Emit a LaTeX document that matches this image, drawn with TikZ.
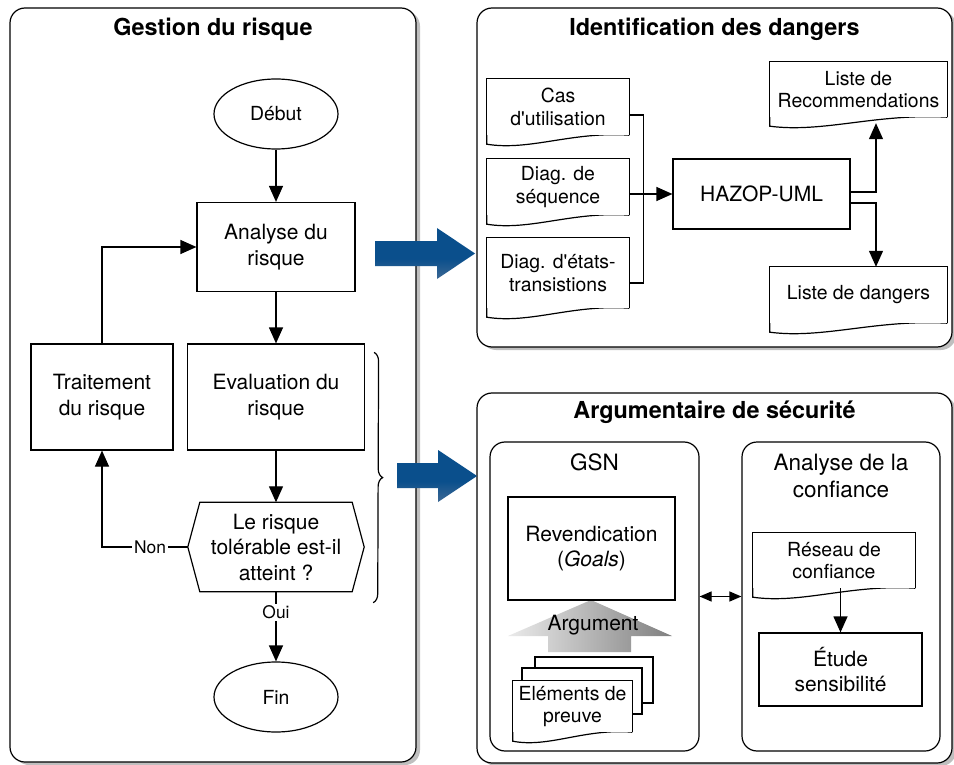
\documentclass[tikz,border=0pt]{standalone}
\usepackage{fontspec}
\setmainfont{TeX Gyre Heros}
\usetikzlibrary{arrows.meta,positioning,shapes.geometric,shadows,calc,decorations.pathreplacing}

\newcommand{\grandtaille}{\fontsize{23.4}{28}\selectfont\bfseries}
\newcommand{\moyentaille}{\fontsize{22.5}{27}\selectfont}
\newcommand{\normaltaille}{\fontsize{21}{25.5}\selectfont}
\newcommand{\petittaille}{\fontsize{19.4}{22.7}\selectfont}
\newcommand{\minitaille}{\fontsize{17.4}{20}\selectfont}

\definecolor{bleuhaut}{HTML}{2F4A66}
\definecolor{bleumilieu}{HTML}{0A4F8C}
\definecolor{bleuclair}{HTML}{3D6894}
\definecolor{bleubas}{HTML}{7A8898}
\pgfdeclareverticalshading{bleuombre}{100bp}{color(0bp)=(bleubas); color(25bp)=(bleuclair);
  color(45bp)=(bleumilieu); color(75bp)=(bleumilieu); color(100bp)=(bleuhaut)}

\tikzset{
  trait/.style={line width=1.2pt},
  fleche/.style={trait, -{Triangle[length=16pt,width=14pt]}},
  cadre/.style={draw, trait, rounded corners=15pt, fill=white, inner sep=0pt,
    drop shadow={shadow xshift=4pt, shadow yshift=-3pt, opacity=0.5}},
  souscadre/.style={draw, trait, rounded corners=15pt, inner sep=0pt},
  titre/.style={font=\grandtaille},
  soustitre/.style={font=\moyentaille, align=center},
  boite/.style={draw, trait, rectangle, align=center, inner sep=0pt, font=\normaltaille},
  ovale/.style={draw, trait, ellipse, minimum width=124pt, minimum height=70pt,
    inner sep=0pt, font=\petittaille},
  etiquette/.style={fill=white, inner sep=2pt, font=\minitaille},
  choix/.style={rectangle, inner sep=0pt, align=center, font=\normaltaille,
    minimum width=176pt, minimum height=89pt,
    append after command={\pgfextra{
      \draw[trait] ([xshift=12pt]\tikzlastnode.north west) -- ([xshift=-12pt]\tikzlastnode.north east)
        -- (\tikzlastnode.east) -- ([xshift=-12pt]\tikzlastnode.south east)
        -- ([xshift=12pt]\tikzlastnode.south west) -- (\tikzlastnode.west) -- cycle;}}},
  doc/.style={rectangle, fill=white, inner sep=0pt, align=center, font=\petittaille,
    append after command={\pgfextra{
      \draw[trait] (\tikzlastnode.south east) -- (\tikzlastnode.north east)
        -- (\tikzlastnode.north west) -- ([yshift=-9pt]\tikzlastnode.south west)
        .. controls ($(\tikzlastnode.south west)!0.3!(\tikzlastnode.south east)+(0,16)$)
        and ($(\tikzlastnode.south west)!0.6!(\tikzlastnode.south east)+(0,-4)$)
        .. (\tikzlastnode.south east);}}},
}

\begin{document}
\begin{tikzpicture}[x=1pt,y=-1pt,node distance=150pt,on grid]
  \useasboundingbox (0,0) rectangle (954,765);

  % les trois cadres
  \node[cadre, minimum width=406pt, minimum height=754pt] (gestion) at (213,385) {};
  \node[titre] (titregestion) at ([yshift=-22pt]gestion.north) {Gestion du risque};
  \node[cadre, minimum width=475pt, minimum height=339pt] (identification) at (714.5,177.5) {};
  \node[titre] (titreidentification) at ([yshift=-22pt]identification.north) {Identification des dangers};
  \node[cadre, minimum width=475pt, minimum height=370pt] (argumentaire) at (714.5,578) {};
  \node[titre] (titreargumentaire) at ([yshift=-20pt]argumentaire.north) {Argumentaire de sécurité};

  % gestion du risque
  \node[ovale] (debut) at (276,114) {Début};
  \node[boite, minimum width=158pt, minimum height=89pt] (analyse) [below=133pt of debut] {Analyse du\\risque};
  \node[boite, minimum width=177pt, minimum height=106pt] (evaluation) [below=of analyse] {Evaluation du\\risque};
  \node[boite, minimum width=142pt, minimum height=106pt] (traitement) [left=174pt of evaluation] {Traitement\\du risque};
  \node[choix] (decision) [below=of evaluation] {Le risque\\tolérable est-il\\atteint ?};
  \node[ovale] (fin) [below=of decision] {Fin};
  \draw[fleche] (debut) -- (analyse);
  \draw[fleche] (analyse) -- (evaluation);
  \draw[fleche] (evaluation) -- (decision.north);
  \draw[fleche] (decision.south) -- (fin.north) node[etiquette, pos=0.3] {Oui};
  \draw[fleche] (decision.west) -| (traitement.south) node[etiquette, pos=0.22] {Non};
  \draw[fleche] (traitement.north) |- (analyse.west);
  \draw[trait, decorate, decoration={brace, amplitude=9pt}]
    ([xshift=9pt,yshift=-9pt]evaluation.north east) -- ([xshift=9pt,yshift=-11pt]decision.south east);

  % grandes fleches
  \shade[shading=bleuombre]
    (375,241) -- (437,241) -- (437,228) -- (475,253.5) -- (437,279) -- (437,266) -- (375,266) -- cycle;
  \shade[shading=bleuombre]
    (397,463) -- (438,463) -- (438,450) -- (477,476) -- (438,502) -- (438,488) -- (397,488) -- cycle;

  % identification des dangers
  \node[doc, minimum width=142pt, minimum height=56pt] (cas) at (558,107) {Cas\\d\textquotesingle utilisation};
  \node[doc, minimum width=142pt, minimum height=56pt] (sequence) [below=80pt of cas] {Diag. de\\séquence};
  \node[doc, minimum width=142pt, minimum height=70pt] (etats) [below=86pt of sequence] {Diag. d\textquotesingle états-\\transistions};
  \node[boite, minimum width=177pt, minimum height=70pt] (hazop) at (761.5,194) {HAZOP-UML};
  \node[doc, minimum width=177pt, minimum height=55pt] (recommandations) at (858.5,89.5) {Liste de\\Recommendations};
  \node[doc, minimum width=177pt, minimum height=56pt] (dangers) [below=205.5pt of recommandations] {Liste de dangers};
  \draw[trait] ([yshift=-8pt]cas.east) -- ++(14,0) |- ([yshift=-10pt]etats.east);
  \draw[fleche] ([yshift=-7pt]sequence.east) -- (hazop.west);
  \draw[fleche] ([yshift=2pt]hazop.east) -| ([xshift=17.5pt,yshift=-6pt]recommandations.south);
  \draw[fleche] ([yshift=-9pt]hazop.east) -| ([xshift=17.5pt]dangers.north);

  % argumentaire de securite
  \node[souscadre, minimum width=209pt, minimum height=309pt] (gsn) at (594.5,596.5) {};
  \node[soustitre] (titregsn) at ([yshift=-21pt]gsn.north) {GSN};
  \node[souscadre, minimum width=198pt, minimum height=309pt] (confiance) at (841,596.5) {};
  \node[soustitre] (titreconfiance) at ([yshift=-34.5pt]confiance.north) {Analyse de la\\confiance};
  \draw[trait, {Triangle[length=12pt,width=10pt]}-{Triangle[length=12pt,width=10pt]}] (gsn) -- (confiance);

  \shade[left color=black!8, middle color=black!38, right color=black!50]
    (591,600) -- (672,636) -- (631,636) -- (631,652) -- (548,652) -- (548,636) -- (508,636) -- cycle;
  \node[boite, minimum width=167pt, minimum height=103pt] (revendication) at (591.5,548.5) {Revendication\\(\textit{Goals})};
  \node[font=\normaltaille] (argument) at (593,625) {Argument};
  \node[draw, trait, fill=white, minimum width=118pt, minimum height=46pt] (preuvefond) at (594,680) {};
  \node[draw, trait, fill=white, minimum width=120pt, minimum height=46pt] (preuvemilieu) at (582,691) {};
  \node[doc, minimum width=119pt, minimum height=51pt] (preuve) at (572.5,706.5) {Eléments de\\preuve};

  \node[doc, minimum width=162pt, minimum height=55pt] (reseau) at (834,560.5) {Réseau de\\confiance};
  \node[boite, minimum width=163pt, minimum height=73pt] (etude) at (840.5,669.5) {Étude\\sensibilité};
  \draw[fleche] (reseau.south -| etude.north) -- (etude.north);
\end{tikzpicture}
\end{document}
